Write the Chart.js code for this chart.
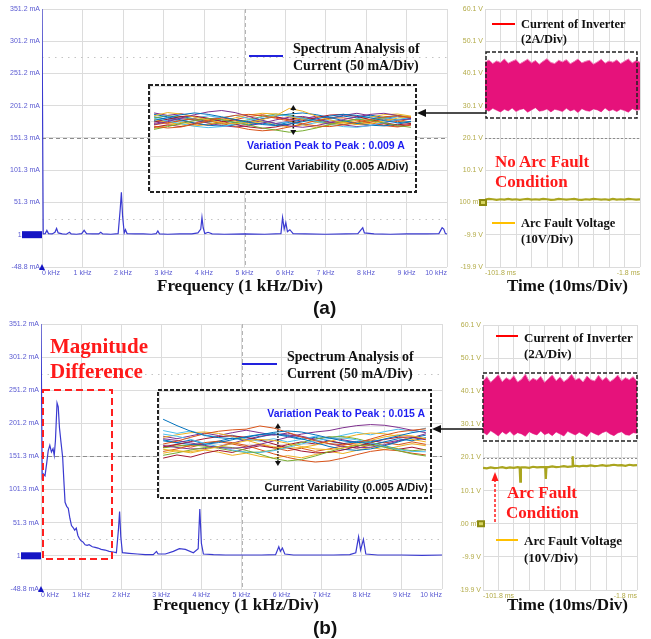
<!DOCTYPE html>
<html>
<head>
<meta charset="utf-8">
<script src="https://cdn.jsdelivr.net/npm/chart.js@4.4.1/dist/chart.umd.min.js"></script>
<style>
  html, body { margin: 0; padding: 0; background: #fff; }
  #page { position: relative; width: 651px; height: 639px; overflow: hidden; font-family: "Liberation Sans", Arial, sans-serif; }
  .pane { position: absolute; }
  .inset { position: absolute; background: #fff; }
  .txt { position: absolute; white-space: nowrap; line-height: 1; }
  .tnr { font-family: "Liberation Serif", "Times New Roman", serif; font-weight: bold; color: #111; }
  .red { color: #ff1a1a; }
  .sb { font-weight: bold; }
  svg { position: absolute; left: 0; top: 0; }
</style>
</head>
<body>
<div id="page">
  <div class="pane" style="left:0;top:0;width:455px;height:282px"><canvas id="specA" width="455" height="282"></canvas></div>
  <div class="pane" style="left:0;top:316px;width:455px;height:288px"><canvas id="specB" width="455" height="288"></canvas></div>
  <div class="pane" style="left:460px;top:0;width:191px;height:282px"><canvas id="timeA" width="191" height="282"></canvas></div>
  <div class="pane" style="left:460px;top:316px;width:191px;height:288px"><canvas id="timeB" width="191" height="288"></canvas></div>
  <div class="inset" style="left:150px;top:86px;width:265px;height:105px"><canvas id="insetA" width="265" height="105"></canvas></div>
  <div class="inset" style="left:159px;top:391px;width:271px;height:106px"><canvas id="insetB" width="271" height="106"></canvas></div>

  <svg width="651" height="639">
    <rect x="149" y="85" width="267" height="107" fill="none" stroke="#222" stroke-width="2" stroke-dasharray="4 2"/>
    <rect x="158" y="390" width="273" height="108" fill="none" stroke="#222" stroke-width="2" stroke-dasharray="4 2"/>
    <rect x="486" y="52" width="151" height="66" fill="none" stroke="#222" stroke-width="1.5" stroke-dasharray="4 2"/>
    <rect x="483" y="373" width="154" height="68" fill="none" stroke="#222" stroke-width="1.5" stroke-dasharray="4 2"/>
    <rect x="43" y="390" width="69" height="169" fill="none" stroke="#ff2020" stroke-width="2" stroke-dasharray="7 4"/>
    <line x1="424" y1="113" x2="486" y2="113" stroke="#111" stroke-width="1.5"/>
    <polygon points="417,113 426,109 426,117" fill="#111"/>
    <line x1="439" y1="429" x2="483" y2="429" stroke="#111" stroke-width="1.5"/>
    <polygon points="432,429 441,425 441,433" fill="#111"/>
    <line x1="495" y1="522" x2="495" y2="480" stroke="#ff1a1a" stroke-width="1.5" stroke-dasharray="3 2"/>
    <polygon points="495,472 491.5,481 498.5,481" fill="#ff1a1a"/>
    <line x1="249" y1="56" x2="283" y2="56" stroke="#2222dd" stroke-width="2"/>
    <line x1="242" y1="364" x2="277" y2="364" stroke="#2222dd" stroke-width="2"/>
    <line x1="492" y1="24" x2="515" y2="24" stroke="#ff0000" stroke-width="2"/>
    <line x1="496" y1="336" x2="518" y2="336" stroke="#ff0000" stroke-width="2"/>
    <line x1="492" y1="223" x2="515" y2="223" stroke="#ffc000" stroke-width="2"/>
    <line x1="496" y1="540" x2="518" y2="540" stroke="#ffc000" stroke-width="2"/>
  </svg>

  <div class="txt tnr" style="left:293px;top:42px;font-size:14px">Spectrum Analysis of</div>
  <div class="txt tnr" style="left:293px;top:59px;font-size:14px">Current (50 mA/Div)</div>
  <div class="txt sb" style="left:247px;top:140px;font-size:10.5px;color:#1d1df0">Variation Peak to Peak : 0.009 A</div>
  <div class="txt sb" style="left:245px;top:161px;font-size:11px;color:#111">Current Variability (0.005 A/Div)</div>
  <div class="txt tnr" style="left:521px;top:18px;font-size:12.5px">Current of Inverter</div>
  <div class="txt tnr" style="left:521px;top:33px;font-size:12.5px">(2A/Div)</div>
  <div class="txt tnr red" style="left:495px;top:153px;font-size:17px">No Arc Fault</div>
  <div class="txt tnr red" style="left:495px;top:173px;font-size:17px">Condition</div>
  <div class="txt tnr" style="left:521px;top:217px;font-size:12.5px">Arc Fault Voltage</div>
  <div class="txt tnr" style="left:521px;top:233px;font-size:12.5px">(10V/Div)</div>
  <div class="txt tnr" style="left:157px;top:277px;font-size:17px">Frequency (1 kHz/Div)</div>
  <div class="txt tnr" style="left:507px;top:277px;font-size:17px">Time (10ms/Div)</div>
  <div class="txt sb" style="left:313px;top:298px;font-size:19px;color:#111">(a)</div>

  <div class="txt tnr red" style="left:50px;top:336px;font-size:21px">Magnitude</div>
  <div class="txt tnr red" style="left:50px;top:361px;font-size:21px">Difference</div>
  <div class="txt tnr" style="left:287px;top:350px;font-size:14px">Spectrum Analysis of</div>
  <div class="txt tnr" style="left:287px;top:367px;font-size:14px">Current (50 mA/Div)</div>
  <div class="txt sb" style="right:226px;top:408px;font-size:10.5px;color:#1d1df0">Variation Peak to Peak : 0.015 A</div>
  <div class="txt sb" style="right:223px;top:482px;font-size:11px;color:#111">Current Variability (0.005 A/Div)</div>
  <div class="txt tnr" style="left:524px;top:331px;font-size:13px">Current of Inverter</div>
  <div class="txt tnr" style="left:524px;top:347px;font-size:13px">(2A/Div)</div>
  <div class="txt tnr red" style="left:507px;top:484px;font-size:17px">Arc Fault</div>
  <div class="txt tnr red" style="left:506px;top:504px;font-size:17px">Condition</div>
  <div class="txt tnr" style="left:524px;top:534px;font-size:13px">Arc Fault Voltage</div>
  <div class="txt tnr" style="left:524px;top:551px;font-size:13px">(10V/Div)</div>
  <div class="txt tnr" style="left:153px;top:596px;font-size:17px">Frequency (1 kHz/Div)</div>
  <div class="txt tnr" style="left:507px;top:596px;font-size:17px">Time (10ms/Div)</div>
  <div class="txt sb" style="left:313px;top:618px;font-size:19px;color:#111">(b)</div>
</div>

<script>
// spectrum of the inverter current, kHz / mA
const specFreqA = [0, 0.03, 0.08, 0.12, 0.16, 0.25, 0.32, 0.36, 0.40, 0.50, 0.60, 0.68, 0.72, 0.85, 0.98, 1.04, 1.10, 1.25, 1.40, 1.45,
  1.50, 1.70, 1.88, 1.93, 1.96, 1.99, 2.03, 2.06, 2.10, 2.30, 2.50, 2.70, 2.82, 2.86, 2.90, 3.10, 3.40, 3.70, 3.85, 3.92,
  3.95, 3.98, 4.02, 4.10, 4.20, 4.50, 5.00, 5.50, 5.90, 5.94, 5.98, 6.02, 6.06, 6.12, 6.20, 6.50, 7.00, 7.50, 7.80, 7.88,
  7.92, 7.96, 8.20, 8.60, 9.00, 9.50, 9.80, 9.88, 9.92, 9.96, 10.0];
const specMagA = [351.2, 2.5, 3, 8, 3, 2.5, 5, 11, 4, 2.5, 2, 5, 2.5, 2, 3, 8, 3, 2.5, 2.5, 5,
  2.5, 2, 3, 40, 67, 30, 4, 9, 3, 2.5, 2.5, 2, 3, 7, 2.5, 2, 2.5, 2.5, 4, 10,
  28, 12, 3, 5, 2.5, 2, 2.5, 2, 3, 28, 10, 20, 6, 9, 3, 2.5, 2, 2.5, 3, 9,
  12, 4, 2.5, 2, 2.5, 2.5, 3, 12, 10, 3, 2.5];

const specFreqB = [0, 0.03, 0.06, 0.10, 0.14, 0.18, 0.22, 0.26, 0.30, 0.33, 0.36, 0.40, 0.43, 0.46, 0.50, 0.54, 0.57, 0.60, 0.64, 0.68,
  0.72, 0.76, 0.80, 0.84, 0.88, 0.92, 0.96, 1.00, 1.05, 1.10, 1.15, 1.20, 1.28, 1.35, 1.42, 1.50, 1.60, 1.70, 1.80, 1.88,
  1.93, 1.96, 1.99, 2.03, 2.20, 2.40, 2.60, 2.80, 2.88, 2.92, 3.10, 3.30, 3.45, 3.60, 3.80, 3.92, 3.96, 4.00, 4.05, 4.30,
  4.60, 5.00, 5.50, 5.85, 5.93, 5.97, 6.02, 6.08, 6.30, 6.80, 7.30, 7.70, 7.85, 7.92, 7.97, 8.04, 8.10, 8.40, 9.00, 9.50, 10.0];
const specMagB = [351.2, 120, 125, 122, 140, 160, 168, 158, 163, 153, 175, 232, 226, 195, 172, 150, 115, 82, 76, 73,
  58, 47, 44, 40, 43, 32, 27, 24, 22, 18, 17, 18, 15, 14, 13, 11, 10, 8, 7, 6,
  40, 68, 30, 6, 5, 4, 3, 3, 8, 4, 4, 8, 12, 11, 6, 12, 72, 20, 4, 3,
  2.5, 2.5, 2.5, 3, 15, 8, 13, 4, 2.5, 2.5, 2.5, 3, 6, 30, 10, 26, 4, 2.5, 2.5, 2, 2.5];

const specXTicks = [0, 1, 2, 3, 4, 5, 6, 7, 8, 9, 10];
const specXLabels = ['0 kHz', '1 kHz', '2 kHz', '3 kHz', '4 kHz', '5 kHz', '6 kHz', '7 kHz', '8 kHz', '9 kHz', '10 kHz'];
const specYTicks = [-48.8, 1.3, 51.3, 101.3, 151.3, 201.2, 251.2, 301.2, 351.2];
const specYLabels = ['-48.8 mA', '1.3 mA', '51.3 mA', '101.3 mA', '151.3 mA', '201.2 mA', '251.2 mA', '301.2 mA', '351.2 mA'];
const specCursors = [26.3, 276.3];
const specRef = 1.3;

// oscilloscope traces, ms / V
const timeMs = [-101.8, -99.3, -96.8, -94.3, -91.8, -89.3, -86.8, -84.3, -81.8, -79.3, -76.8, -74.3, -71.8, -69.3, -66.8, -64.3,
  -61.8, -59.3, -56.8, -54.3, -51.8, -49.3, -46.8, -44.3, -41.8, -39.3, -36.8, -34.3, -31.8, -29.3, -26.8, -24.3,
  -21.8, -19.3, -16.8, -14.3, -11.8, -9.3, -6.8, -4.3, -1.8];
const invHiA = [43.6, 44.3, 43.2, 44.0, 43.5, 44.6, 43.3, 43.9, 44.4, 43.1, 43.8, 44.5, 43.4, 44.1, 43.0, 43.9, 44.7, 43.5, 43.2, 44.2,
  43.7, 44.4, 43.1, 43.8, 44.6, 43.4, 43.9, 44.2, 43.0, 43.7, 44.5, 43.3, 44.0, 43.6, 44.3, 43.2, 43.9, 44.6, 43.4, 44.1, 43.6];
const invLoA = [29.1, 28.4, 29.3, 28.7, 28.2, 29.0, 28.5, 29.4, 28.3, 28.9, 29.2, 28.1, 28.8, 29.5, 28.4, 28.6, 29.1, 28.2, 29.0, 28.7,
  28.3, 29.3, 28.5, 28.9, 28.0, 29.2, 28.6, 28.4, 29.1, 28.8, 28.2, 29.4, 28.5, 28.9, 28.3, 29.0, 28.6, 28.1, 29.2, 28.7, 28.9];
const arcA = [1.0, 1.2, 1.1, 0.9, 1.1, 1.0, 1.2, 1.0, 1.1, 0.9, 1.1, 1.2, 1.0, 1.1, 1.0, 1.2, 1.1, 0.9, 1.0, 1.2,
  1.1, 1.0, 1.1, 1.2, 1.0, 0.9, 1.1, 1.0, 1.2, 1.1, 1.0, 1.1, 0.9, 1.2, 1.0, 1.1, 1.0, 1.2, 1.1, 1.0, 1.1];
const invHiB = [43.2, 44.5, 42.8, 43.9, 45.1, 43.0, 44.2, 43.5, 44.8, 42.9, 43.7, 45.3, 43.1, 44.0, 43.4, 44.6, 42.8, 43.9, 45.0, 43.3,
  44.4, 43.0, 43.8, 45.2, 43.5, 44.1, 42.9, 44.7, 43.6, 43.2, 44.9, 43.4, 44.3, 43.0, 43.8, 45.0, 43.3, 44.2, 43.6, 44.5, 43.1];
const invLoB = [27.8, 26.9, 28.2, 27.4, 26.6, 27.9, 27.1, 28.0, 26.8, 27.6, 27.2, 26.5, 27.9, 27.3, 26.9, 28.1, 27.0, 27.5, 26.7, 27.8,
  27.2, 26.6, 28.0, 27.4, 26.9, 27.7, 27.1, 26.4, 27.9, 27.3, 26.8, 27.6, 28.0, 27.2, 26.7, 27.5, 27.9, 27.0, 26.8, 27.6, 27.4];
const arcTimeB = [-101.8, -99.3, -96.8, -94.3, -91.8, -89.3, -86.8, -84.3, -81.8, -79.3, -78.0, -77.6, -77.2, -76.8, -74.3, -71.8,
  -69.3, -66.8, -64.3, -61.4, -61.0, -60.6, -59.3, -56.8, -54.3, -51.8, -49.3, -46.8, -44.0, -43.6, -43.2, -41.8,
  -39.3, -36.8, -34.3, -31.8, -29.3, -26.8, -24.3, -21.8, -19.3, -16.8, -14.3, -11.8, -9.3, -6.8, -4.3, -1.8];
const arcB = [17.0, 16.8, 17.1, 16.9, 17.0, 17.2, 16.9, 17.1, 17.0, 17.2, 17.1, 12.8, 17.0, 17.1, 17.1, 17.0,
  17.3, 17.1, 17.2, 17.2, 13.6, 17.2, 17.2, 17.4, 17.2, 17.3, 17.5, 17.3, 17.4, 20.5, 17.5, 17.6,
  17.4, 17.6, 17.5, 17.7, 17.5, 17.6, 17.8, 17.6, 17.7, 17.9, 17.7, 17.8, 17.6, 17.9, 17.7, 17.8];

const timeXTicks = [-101.8, -91.8, -81.8, -71.8, -61.8, -51.8, -41.8, -31.8, -21.8, -11.8, -1.8];
const timeYTicks = [-19.9, -9.9, 0.1, 10.1, 20.1, 30.1, 40.1, 50.1, 60.1];
const timeYLabels = ['-19.9 V', '-9.9 V', '100 mV', '10.1 V', '20.1 V', '30.1 V', '40.1 V', '50.1 V', '60.1 V'];
const timeRef = 0.1;

// current variability insets, mA per sample index
const insetIdx = [0, 1, 2, 3, 4, 5, 6, 7, 8, 9, 10, 11, 12, 13, 14, 15, 16, 17, 18, 19];
const insetA = [
  [170.2, 171.0, 171.8, 172.3, 171.9, 171.2, 170.4, 169.6, 169.0, 168.7, 169.1, 169.8, 170.6, 171.4, 171.9, 171.6, 170.9, 170.1, 169.5, 169.9],
  [168.5, 168.0, 168.3, 169.1, 170.0, 170.9, 171.6, 171.9, 171.5, 170.8, 170.0, 169.2, 168.6, 168.4, 168.9, 169.7, 170.5, 171.2, 171.5, 171.0],
  [171.5, 172.4, 172.0, 171.1, 170.3, 169.5, 169.2, 169.6, 170.4, 171.5, 173.6, 172.8, 171.4, 170.3, 169.5, 169.0, 169.3, 170.0, 170.8, 171.3],
  [169.0, 169.8, 170.9, 171.8, 172.6, 173.0, 172.4, 171.3, 170.2, 169.3, 168.6, 168.2, 168.7, 169.5, 170.4, 171.2, 171.9, 172.2, 171.6, 170.7],
  [167.6, 168.4, 169.3, 170.1, 170.7, 170.4, 169.6, 168.8, 168.0, 167.4, 166.8, 167.2, 168.0, 169.0, 169.9, 170.5, 170.2, 169.4, 168.7, 168.2],
  [170.8, 170.0, 169.2, 168.5, 168.1, 168.4, 169.2, 170.2, 171.1, 171.7, 171.5, 170.8, 169.9, 169.0, 168.4, 168.2, 168.7, 169.6, 170.4, 171.0],
  [169.7, 170.5, 171.3, 171.4, 170.8, 169.9, 169.0, 168.3, 167.9, 168.3, 169.1, 170.1, 171.0, 171.7, 171.9, 171.3, 170.4, 169.5, 168.9, 169.3],
  [171.9, 171.2, 170.3, 169.4, 168.8, 168.5, 168.9, 169.7, 170.6, 171.4, 172.0, 172.3, 171.8, 171.0, 170.1, 169.3, 168.8, 168.6, 169.1, 169.8],
  [168.9, 169.5, 170.2, 170.6, 170.1, 169.3, 168.4, 167.6, 167.2, 167.5, 168.3, 169.2, 170.1, 170.8, 170.9, 170.3, 169.5, 168.7, 168.3, 168.8],
  [170.4, 169.6, 168.9, 168.6, 169.0, 169.9, 170.9, 171.7, 172.2, 172.0, 171.3, 170.4, 169.6, 169.1, 169.4, 170.2, 171.1, 171.8, 172.0, 171.4],
  [169.3, 170.1, 170.7, 170.2, 169.4, 168.7, 168.3, 168.6, 169.4, 170.3, 171.1, 171.3, 170.6, 169.7, 168.9, 168.4, 168.7, 169.5, 170.3, 170.6],
  [170.9, 171.5, 171.1, 170.3, 169.5, 169.1, 169.5, 170.4, 171.3, 172.0, 171.7, 170.9, 170.0, 169.3, 169.0, 169.4, 170.2, 171.0, 171.6, 171.2],
  [169.8, 170.6, 169.9, 170.8, 171.5, 170.9, 171.6, 170.7, 170.1, 169.2, 169.8, 168.9, 169.5, 170.3, 169.7, 170.6, 171.3, 170.5, 171.2, 170.4],
  [168.2, 168.9, 168.4, 169.3, 168.8, 169.7, 170.4, 169.8, 170.6, 171.2, 170.5, 171.0, 170.2, 169.6, 170.1, 169.3, 168.7, 169.2, 168.5, 169.0],
  [171.2, 170.5, 171.3, 170.6, 169.8, 170.3, 169.5, 168.9, 169.4, 168.8, 169.6, 170.4, 169.9, 170.8, 171.4, 170.9, 171.7, 171.0, 170.3, 170.8],
  [170.0, 169.3, 170.1, 169.4, 170.3, 171.0, 170.4, 171.2, 171.8, 171.1, 170.3, 170.9, 170.0, 169.2, 169.8, 169.0, 169.7, 170.5, 169.8, 170.6],
  [167.9, 168.7, 169.6, 169.0, 169.9, 170.6, 170.0, 169.2, 169.8, 168.9, 168.3, 168.9, 168.1, 168.8, 169.7, 169.1, 170.0, 170.7, 170.1, 169.4],
  [172.3, 171.6, 172.1, 171.2, 170.6, 171.0, 170.2, 169.5, 170.0, 169.3, 169.9, 170.6, 171.4, 170.8, 171.6, 172.2, 171.5, 170.7, 171.3, 170.9]
];
const insetB = [
  [172.0, 170.2, 168.6, 167.4, 166.8, 166.5, 166.9, 167.6, 168.3, 168.7, 168.4, 167.6, 166.7, 165.9, 165.4, 165.6, 166.4, 167.3, 168.2, 168.8],
  [165.0, 165.8, 166.9, 167.9, 168.6, 169.0, 169.2, 170.1, 169.5, 168.3, 167.0, 165.9, 165.1, 164.8, 165.3, 166.4, 167.5, 168.4, 168.9, 169.3],
  [163.5, 163.0, 162.9, 163.4, 164.2, 165.1, 165.9, 166.3, 166.0, 165.2, 164.3, 163.6, 163.4, 163.9, 164.9, 166.0, 167.0, 167.6, 167.3, 166.5],
  [166.5, 166.0, 165.3, 164.6, 164.0, 163.8, 164.1, 164.9, 165.9, 166.9, 167.8, 168.4, 168.8, 169.6, 170.2, 170.5, 170.3, 169.7, 168.9, 168.2],
  [161.8, 162.5, 163.3, 164.0, 164.3, 164.0, 163.2, 162.1, 160.9, 160.2, 160.6, 161.6, 162.8, 163.9, 164.6, 164.7, 164.1, 163.1, 162.2, 161.6],
  [167.8, 167.2, 166.3, 165.2, 164.2, 163.3, 162.7, 162.6, 163.1, 164.0, 165.0, 165.9, 166.5, 166.7, 166.2, 165.3, 164.3, 163.4, 162.9, 162.8],
  [164.2, 164.9, 165.7, 166.5, 167.1, 167.3, 166.9, 166.1, 165.0, 163.9, 163.0, 162.5, 162.6, 163.3, 164.3, 165.4, 166.3, 166.9, 167.0, 166.4],
  [165.9, 165.3, 164.9, 164.9, 165.4, 166.2, 167.1, 167.7, 167.9, 167.4, 166.5, 165.4, 164.3, 163.5, 163.2, 163.6, 164.5, 165.6, 166.7, 167.5],
  [162.9, 163.6, 164.6, 165.4, 165.8, 165.4, 164.6, 163.4, 162.2, 161.2, 160.4, 159.9, 160.2, 161.0, 162.0, 162.9, 163.4, 163.1, 162.4, 161.9],
  [166.9, 167.6, 168.2, 168.4, 168.0, 167.2, 166.1, 165.0, 164.2, 163.8, 164.0, 164.7, 165.7, 166.7, 167.6, 168.1, 167.9, 167.2, 166.3, 165.6],
  [164.6, 164.0, 163.6, 163.7, 164.3, 165.2, 166.3, 167.2, 167.7, 167.6, 167.0, 166.1, 165.1, 164.3, 163.9, 164.1, 164.8, 165.8, 166.8, 167.9],
  [163.9, 164.4, 164.7, 164.4, 163.8, 163.1, 162.6, 162.7, 163.3, 164.3, 165.4, 166.4, 167.0, 167.1, 166.5, 165.5, 164.5, 163.6, 163.1, 163.4],
  [168.8, 168.0, 168.7, 167.6, 166.9, 167.5, 166.4, 165.8, 166.5, 165.6, 166.3, 167.2, 166.6, 167.5, 168.3, 167.6, 168.5, 169.2, 168.6, 169.5],
  [161.0, 161.9, 161.3, 162.4, 163.2, 162.6, 163.7, 164.5, 163.9, 164.8, 165.6, 165.0, 165.9, 165.2, 164.4, 165.1, 164.2, 163.5, 164.1, 163.3],
  [166.2, 165.4, 166.1, 165.0, 165.8, 166.7, 166.0, 167.0, 167.8, 167.1, 166.3, 166.9, 165.8, 165.1, 165.7, 164.8, 165.6, 166.5, 165.9, 166.8],
  [164.0, 164.8, 164.1, 165.0, 165.7, 165.0, 164.2, 164.9, 163.9, 163.1, 163.8, 162.9, 163.6, 164.5, 163.8, 164.7, 165.5, 164.8, 165.6, 164.9],
  [162.4, 163.1, 162.5, 163.3, 162.7, 161.8, 162.4, 161.5, 161.0, 161.7, 161.1, 162.0, 162.9, 162.3, 163.2, 164.0, 163.4, 164.3, 165.1, 164.5],
  [167.2, 166.5, 167.3, 168.1, 167.4, 168.2, 168.9, 168.2, 167.5, 168.1, 167.2, 166.4, 167.0, 166.2, 165.5, 166.1, 165.3, 166.0, 166.8, 166.2]
];
// peak to peak markers: [sample index, low mA, high mA]
const peakToPeakA = [10.3, 166.0, 174.6];
const peakToPeakB = [8.3, 158.8, 170.9];

const matlabColors = ['#0072BD', '#D95319', '#EDB120', '#7E2F8E', '#77AC30', '#4DBEEE', '#A2142F'];

Chart.defaults.font.family = '"Liberation Sans", Arial, sans-serif';
Chart.defaults.animation = false;

function hline(ctx, a, y, color, dash) {
  ctx.strokeStyle = color;
  ctx.setLineDash(dash);
  ctx.beginPath();
  ctx.moveTo(a.left, Math.round(y) + 0.5);
  ctx.lineTo(a.right, Math.round(y) + 0.5);
  ctx.stroke();
}

const specDecor = {
  id: 'specDecor',
  beforeDatasetsDraw(chart) {
    const { ctx, chartArea: a, scales: { x, y } } = chart;
    ctx.save();
    ctx.lineWidth = 1;
    specCursors.forEach(v => hline(ctx, a, y.getPixelForValue(v), '#c4c4c4', [1.5, 5]));
    hline(ctx, a, y.getPixelForValue(specYTicks[4]), '#8c8c8c', [4, 3]);
    ctx.strokeStyle = '#b4b4b4';
    ctx.setLineDash([4, 3]);
    const cx = Math.round(x.getPixelForValue(specXTicks[5])) + 0.5;
    ctx.beginPath(); ctx.moveTo(cx, a.top); ctx.lineTo(cx, a.bottom); ctx.stroke();
    ctx.restore();
  },
  afterDraw(chart) {
    const { ctx, chartArea: a, scales: { y } } = chart;
    const py = y.getPixelForValue(specRef);
    ctx.save();
    ctx.fillStyle = '#1414c4';
    ctx.fillRect(a.left - 20, py - 3.5, 20, 7);
    ctx.beginPath();
    ctx.moveTo(a.left, a.bottom - 3); ctx.lineTo(a.left - 3, a.bottom + 3); ctx.lineTo(a.left + 3, a.bottom + 3);
    ctx.fill();
    ctx.restore();
  }
};

function spectrumChart(id, freq, mag, pad, yw, xh) {
  return new Chart(document.getElementById(id), {
    type: 'line',
    data: {
      datasets: [{
        data: freq.map((f, i) => ({ x: f, y: mag[i] })),
        borderColor: '#3a3ad0',
        borderWidth: 1.2,
        pointRadius: 0,
        tension: 0
      }]
    },
    options: {
      responsive: false,
      devicePixelRatio: 1,
      layout: { padding: pad },
      plugins: { legend: { display: false }, tooltip: { enabled: false } },
      scales: {
        x: {
          type: 'linear', min: 0, max: 10,
          afterBuildTicks: s => { s.ticks = specXTicks.map(v => ({ value: v })); },
          afterFit: s => { s.height = xh; },
          ticks: { autoSkip: false, maxRotation: 0, align: 'inner', padding: 2, color: '#5a5ad2', font: { size: 7 },
                   callback: (v, i) => specXLabels[i] },
          grid: { color: '#dcdcdc', drawTicks: false },
          border: { display: false }
        },
        y: {
          min: -48.8, max: 351.2,
          afterBuildTicks: s => { s.ticks = specYTicks.map(v => ({ value: v })); },
          afterFit: s => { s.width = yw; },
          ticks: { autoSkip: false, padding: 2, color: '#5a5ad2', font: { size: 7 },
                   callback: (v, i) => specYLabels[i] },
          grid: { color: '#dcdcdc', drawTicks: false },
          border: { display: false }
        }
      }
    },
    plugins: [specDecor]
  });
}

const timeDecor = {
  id: 'timeDecor',
  beforeDatasetsDraw(chart) {
    const { ctx, chartArea: a, scales: { y } } = chart;
    ctx.save();
    ctx.lineWidth = 1;
    hline(ctx, a, y.getPixelForValue(timeYTicks[4]), '#8c8c8c', [2, 2]);
    ctx.restore();
  },
  afterDraw(chart) {
    const { ctx, chartArea: a, scales: { y } } = chart;
    const py = y.getPixelForValue(timeRef);
    ctx.save();
    ctx.fillStyle = '#8c8a10';
    ctx.fillRect(a.left - 6, py - 3.5, 8, 7);
    ctx.fillStyle = '#d6d460';
    ctx.fillRect(a.left - 4, py - 1.5, 4, 3);
    ctx.restore();
  }
};

function timeChart(id, hi, lo, arcT, arc, pad, yw, xh) {
  const pts = (ts, arr) => ts.map((t, i) => ({ x: t, y: arr[i] }));
  return new Chart(document.getElementById(id), {
    type: 'line',
    data: {
      datasets: [
        { data: pts(timeMs, hi), borderColor: '#f07ab8', borderWidth: 1, backgroundColor: '#e6127b', fill: '+1', pointRadius: 0, tension: 0 },
        { data: pts(timeMs, lo), borderColor: '#f07ab8', borderWidth: 1, fill: false, pointRadius: 0, tension: 0 },
        { data: pts(arcT, arc), borderColor: '#aaa51e', borderWidth: 2.2, fill: false, pointRadius: 0, tension: 0 }
      ]
    },
    options: {
      responsive: false,
      devicePixelRatio: 1,
      layout: { padding: pad },
      plugins: { legend: { display: false }, tooltip: { enabled: false } },
      scales: {
        x: {
          type: 'linear', min: -101.8, max: -1.8,
          afterBuildTicks: s => { s.ticks = timeXTicks.map(v => ({ value: v })); },
          afterFit: s => { s.height = xh; },
          ticks: { autoSkip: false, maxRotation: 0, align: 'inner', padding: 2, color: '#b3ab48', font: { size: 7 },
                   callback: (v, i) => (i === 0 || i === timeXTicks.length - 1) ? timeXTicks[i] + ' ms' : '' },
          grid: { color: '#dcdcdc', drawTicks: false },
          border: { display: false }
        },
        y: {
          min: -19.9, max: 60.1,
          afterBuildTicks: s => { s.ticks = timeYTicks.map(v => ({ value: v })); },
          afterFit: s => { s.width = yw; },
          ticks: { autoSkip: false, padding: 2, color: '#b3ab48', font: { size: 7 },
                   callback: (v, i) => timeYLabels[i] },
          grid: { color: '#dcdcdc', drawTicks: false },
          border: { display: false }
        }
      }
    },
    plugins: [timeDecor]
  });
}

function insetChart(id, lines, pp) {
  const arrowPlugin = {
    id: 'pp',
    afterDatasetsDraw(chart) {
      const { ctx, scales: { x, y } } = chart;
      const px = x.getPixelForValue(pp[0]);
      const y0 = y.getPixelForValue(pp[1]);
      const y1 = y.getPixelForValue(pp[2]);
      ctx.save();
      ctx.strokeStyle = '#111';
      ctx.fillStyle = '#111';
      ctx.lineWidth = 1.6;
      ctx.setLineDash([1.5, 1.5]);
      ctx.beginPath(); ctx.moveTo(px, y1 + 4); ctx.lineTo(px, y0 - 4); ctx.stroke();
      ctx.beginPath(); ctx.moveTo(px, y1); ctx.lineTo(px - 3, y1 + 5); ctx.lineTo(px + 3, y1 + 5); ctx.fill();
      ctx.beginPath(); ctx.moveTo(px, y0); ctx.lineTo(px - 3, y0 - 5); ctx.lineTo(px + 3, y0 - 5); ctx.fill();
      ctx.restore();
    }
  };
  const even = s => { s.ticks = [0, 1, 2, 3, 4, 5, 6].map(k => ({ value: s.min + k * (s.max - s.min) / 6 })); };
  return new Chart(document.getElementById(id), {
    type: 'line',
    data: {
      datasets: lines.map((vals, k) => ({
        data: insetIdx.map((t, i) => ({ x: t, y: vals[i] })),
        borderColor: matlabColors[k % matlabColors.length],
        borderWidth: 1,
        pointRadius: 0,
        tension: 0
      }))
    },
    options: {
      responsive: false,
      devicePixelRatio: 1,
      layout: { padding: 0 },
      plugins: { legend: { display: false }, tooltip: { enabled: false } },
      scales: {
        x: { type: 'linear', min: -0.3, max: 19.3, afterBuildTicks: even, afterFit: s => { s.height = 0; },
             ticks: { display: false }, grid: { color: '#e4e4e4', drawTicks: false }, border: { display: false } },
        y: { min: 150, max: 180, afterBuildTicks: even, afterFit: s => { s.width = 0; },
             ticks: { display: false }, grid: { color: '#e4e4e4', drawTicks: false }, border: { display: false } }
      }
    },
    plugins: [arrowPlugin]
  });
}

spectrumChart('specA', specFreqA, specMagA, { left: 0, top: 9, right: 8, bottom: 0 }, 42, 15);
spectrumChart('specB', specFreqB, specMagB, { left: 0, top: 8, right: 13, bottom: 0 }, 41, 15);
timeChart('timeA', invHiA, invLoA, timeMs, arcA, { left: 0, top: 9, right: 11, bottom: 0 }, 25, 15);
timeChart('timeB', invHiB, invLoB, arcTimeB, arcB, { left: 0, top: 9, right: 14, bottom: 0 }, 23, 14);
insetChart('insetA', insetA, peakToPeakA);
insetChart('insetB', insetB, peakToPeakB);
</script>
</body>
</html>
